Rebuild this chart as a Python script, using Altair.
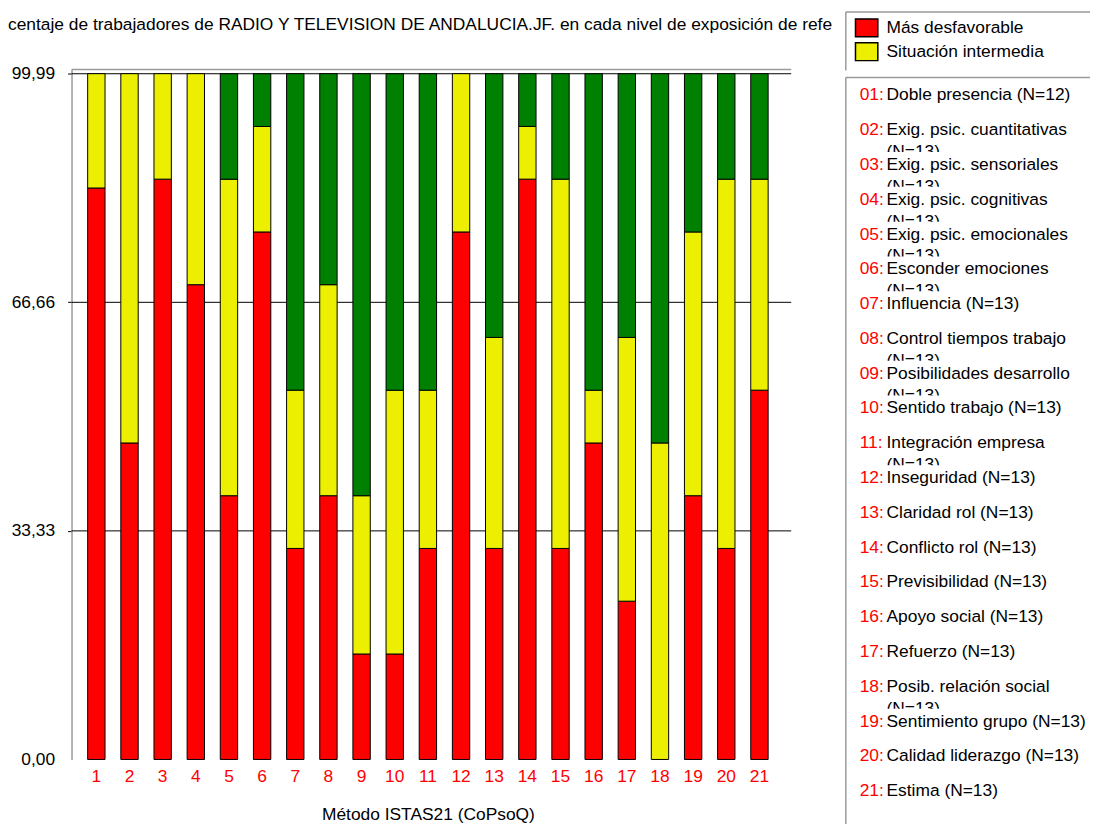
import altair as alt
import pandas as pd

F = "Liberation Sans"
FS = 17.5

categories = [str(i) for i in range(1, 22)]
mas_desfavorable = [83.33, 46.15, 84.62, 69.23, 38.46, 76.92, 30.77, 38.46, 15.38, 15.38, 30.77,
                    76.92, 30.77, 84.62, 30.77, 46.15, 23.08, 0.0, 38.46, 30.77, 53.85]
situacion_intermedia = [16.67, 53.85, 15.38, 30.77, 46.15, 15.38, 23.08, 30.77, 23.08, 38.46, 23.08,
                        23.08, 30.77, 7.69, 53.85, 7.69, 38.46, 46.15, 38.46, 53.85, 30.77]
mas_favorable = [0.0, 0.0, 0.0, 0.0, 15.38, 7.69, 46.15, 30.77, 61.54, 46.15, 46.15,
                 0.0, 38.46, 7.69, 15.38, 46.15, 38.46, 53.85, 23.08, 15.38, 15.38]
series_names = ["Más desfavorable", "Situación intermedia", "Más favorable"]
series_colors = ["#FF0000", "#ECF000", "#008000"]
y_ticks = [0, 33.33, 66.66, 99.99]

item_numbers = ["01:", "02:", "03:", "04:", "05:", "06:", "07:", "08:", "09:", "10:", "11:",
                "12:", "13:", "14:", "15:", "16:", "17:", "18:", "19:", "20:", "21:"]
item_names = ["Doble presencia (N=12)", "Exig. psic. cuantitativas", "Exig. psic. sensoriales",
              "Exig. psic. cognitivas", "Exig. psic. emocionales", "Esconder emociones",
              "Influencia (N=13)", "Control tiempos trabajo", "Posibilidades desarrollo",
              "Sentido trabajo (N=13)", "Integración empresa", "Inseguridad (N=13)",
              "Claridad rol (N=13)", "Conflicto rol (N=13)", "Previsibilidad (N=13)",
              "Apoyo social (N=13)", "Refuerzo (N=13)", "Posib. relación social",
              "Sentimiento grupo (N=13)", "Calidad liderazgo (N=13)", "Estima (N=13)"]
item_wrapped = ["", "(N=13)", "(N=13)", "(N=13)", "(N=13)", "(N=13)", "", "(N=13)", "(N=13)", "",
                "(N=13)", "", "", "", "", "", "", "(N=13)", "", "", ""]

title_text = "centaje de trabajadores de RADIO Y TELEVISION DE ANDALUCIA.JF. en cada nivel de exposición de refe"
x_title = "Método ISTAS21 (CoPsoQ)"

rows = []
for i, c in enumerate(categories):
    for k, vals in enumerate([mas_desfavorable, situacion_intermedia, mas_favorable]):
        rows.append({"cat": c, "serie": series_names[k], "ord": k, "value": vals[i]})
df = pd.DataFrame(rows)

W, H = 725, 695
YDOM = [0, 100.6]
GRAY = "#9a9a9a"

yaxis = alt.Axis(title=None, values=y_ticks, grid=False,
                 labelExpr="replace(format(datum.value, '.2f'), '.', ',')",
                 labelFont=F, labelFontSize=FS, labelColor="black", labelPadding=13,
                 domainColor=GRAY, domainWidth=1.5, tickColor="black", tickSize=4,
                 tickOpacity=alt.condition("datum.value == 0", alt.value(0), alt.value(1)))

grid = alt.Chart(pd.DataFrame({"v": y_ticks[1:]})).mark_rule(color="black", strokeWidth=1).encode(
    y=alt.Y("v:Q", scale=alt.Scale(domain=YDOM, nice=False), axis=yaxis)
)
topline = alt.Chart(pd.DataFrame({"a": [0]})).mark_rule(color=GRAY, strokeWidth=1.5).encode(
    y=alt.value(0), x=alt.value(0), x2=alt.value(W)
)

bars = alt.Chart(df).transform_filter("datum.value > 0").mark_bar(
    stroke="black", strokeWidth=1, opacity=1
).encode(
    x=alt.X("cat:N", sort=categories,
            scale=alt.Scale(range=[0, 718], paddingInner=0.476, paddingOuter=0.4865),
            axis=alt.Axis(title=x_title, domain=False, ticks=False, labelAngle=0,
                          labelColor="#FF0000", labelFontSize=FS, labelFont=F, labelPadding=8,
                          titleFont=F, titleFontSize=FS, titleFontWeight="normal",
                          titleColor="black", titlePadding=21)),
    y=alt.Y("value:Q", stack="zero", scale=alt.Scale(domain=YDOM, nice=False), axis=yaxis),
    color=alt.Color("serie:N", scale=alt.Scale(domain=series_names, range=series_colors),
                    legend=alt.Legend(orient="none", legendX=791, legendY=-52,
                                      values=series_names[:2], title=None,
                                      symbolType="M-1.25,-1H1.25V1H-1.25Z", symbolSize=324,
                                      symbolStrokeColor="black", symbolStrokeWidth=1.5,
                                      symbolOpacity=1, labelFont=F, labelFontSize=FS,
                                      labelColor="black", labelOffset=10, rowPadding=0,
                                      padding=0)),
    order=alt.Order("ord:Q"),
)

list_df = pd.DataFrame({"num": item_numbers, "name": item_names, "wrap": item_wrapped})
lbase = alt.Chart(list_df).transform_calculate(i="toNumber(substring(datum.num, 0, 2)) - 1")
ly = alt.Y("i:Q", scale=alt.Scale(domain=[0, 20], range=[26, 727]), axis=None)

wrap_txt = lbase.transform_filter("datum.wrap != ''").mark_text(
    align="left", baseline="middle", dy=22, font=F, fontSize=FS, color="black"
).encode(y=ly, x=alt.value(821), text="wrap:N")
white = lbase.mark_rect(fill="white", yOffset=-13, y2Offset=13).encode(
    y=ly, y2=alt.Y2("i:Q"), x=alt.value(786), x2=alt.value(1026)
)
num_txt = lbase.mark_text(align="left", baseline="middle", font=F, fontSize=FS, color="#FF0000").encode(
    y=ly, x=alt.value(794), text="num:N"
)
name_txt = lbase.mark_text(align="left", baseline="middle", font=F, fontSize=FS, color="black").encode(
    y=ly, x=alt.value(821), text="name:N"
)
list_layer = alt.layer(wrap_txt, white, num_txt, name_txt)

one = pd.DataFrame({"a": [0]})
def frame(x, x2, y, y2):
    return alt.Chart(one).mark_rule(color=GRAY, strokeWidth=1.5).encode(
        x=alt.value(x), x2=alt.value(x2), y=alt.value(y), y2=alt.value(y2))

frames = [
    frame(780, 1030, -58, -58),
    frame(780, 780, -58, 1),
    frame(780, 1030, 8, 8),
    frame(780, 780, 8, 760),
]

chart = alt.layer(
    alt.layer(grid, topline, bars),
    list_layer,
    *frames,
).resolve_scale(y="independent").properties(
    width=W, height=H,
    autosize=alt.AutoSizeParams(type="none"),
    padding={"left": 64, "top": 59, "right": 301, "bottom": 62},
    title=alt.TitleParams(text=title_text, anchor="start", frame="group", dx=-64, dy=36,
                          baseline="alphabetic",
                          font=F, fontSize=FS, fontWeight="normal", color="black", offset=0),
).configure_view(stroke=None)

chart.save("out.html", embed_options={"renderer": "svg", "actions": False})
